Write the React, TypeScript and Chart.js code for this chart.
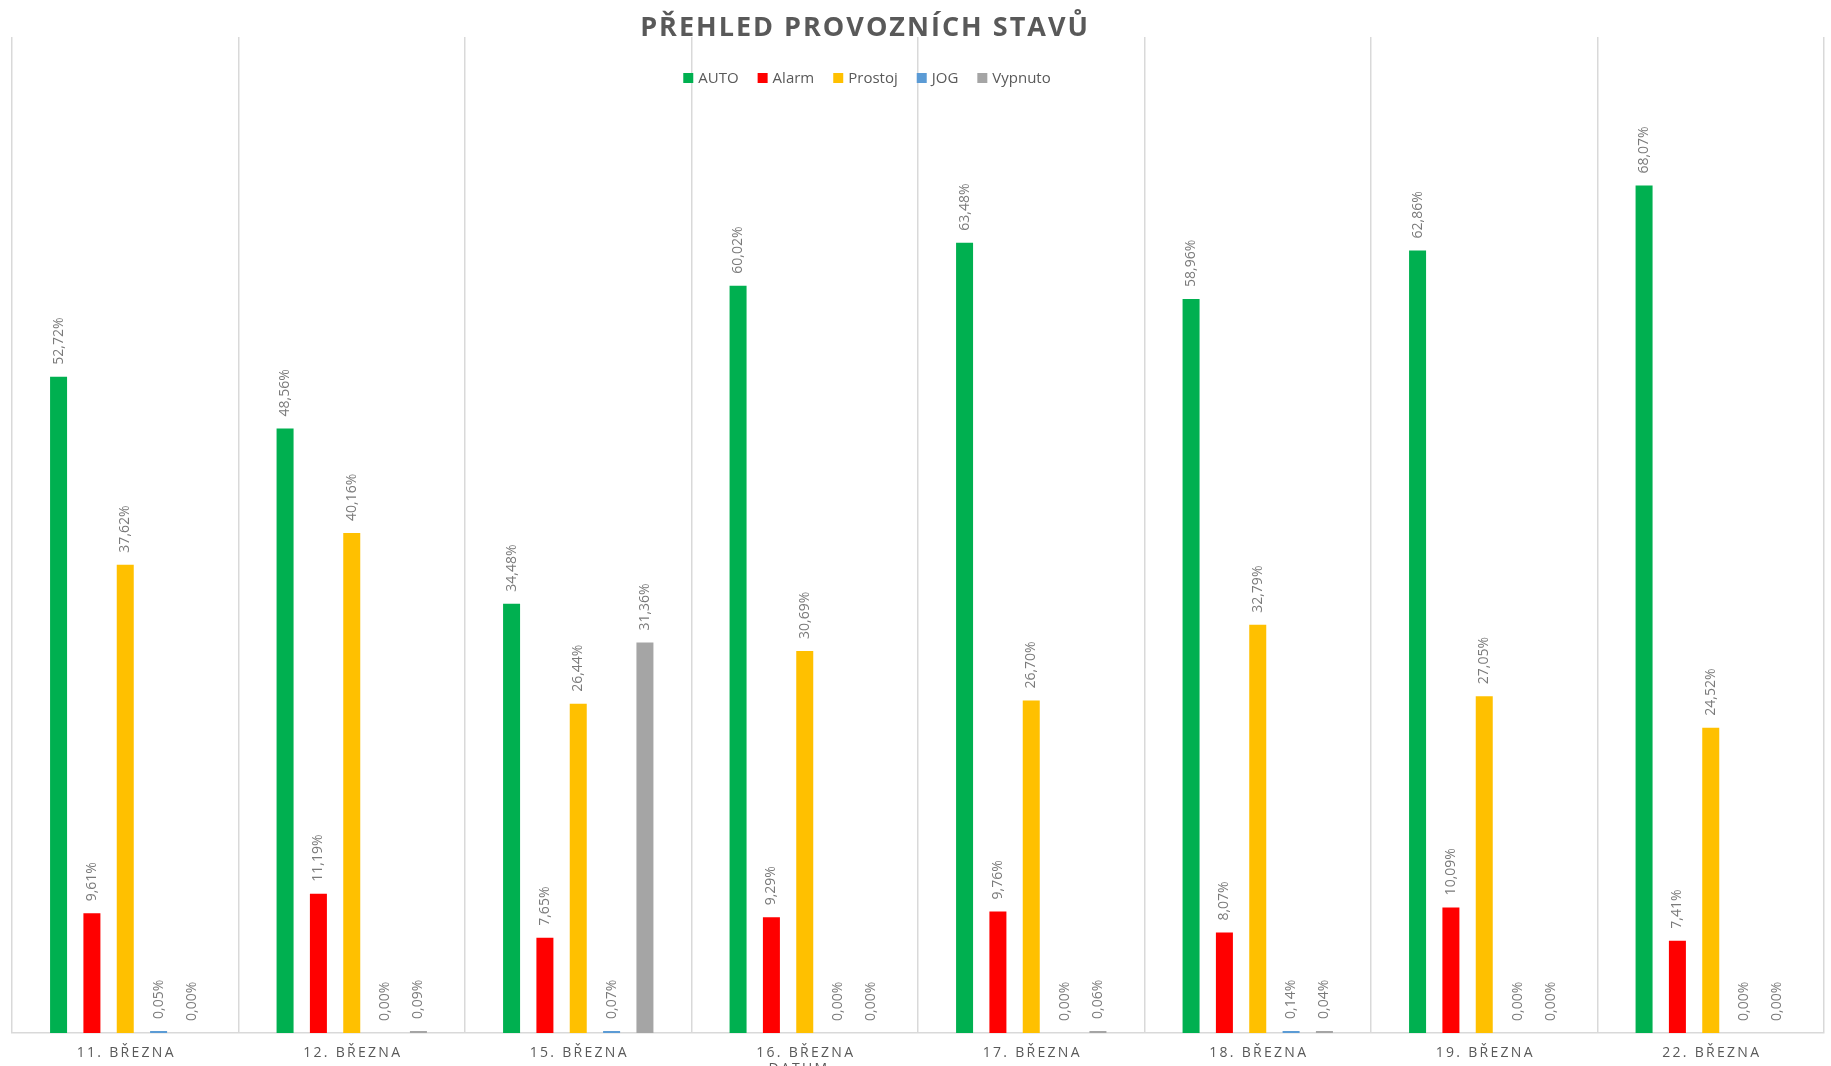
import { useEffect, useRef } from 'react';
import { Chart, registerables } from 'chart.js';

Chart.register(...registerables);

const WIDTH = 1831;
const HEIGHT = 1066;

const title = 'PŘEHLED PROVOZNÍCH STAVŮ';
const axisTitle = 'DATUM';

const categories = [
  '11. BŘEZNA',
  '12. BŘEZNA',
  '15. BŘEZNA',
  '16. BŘEZNA',
  '17. BŘEZNA',
  '18. BŘEZNA',
  '19. BŘEZNA',
  '22. BŘEZNA',
];

const autoValues = [52.72, 48.56, 34.48, 60.02, 63.48, 58.96, 62.86, 68.07];
const alarmValues = [9.61, 11.19, 7.65, 9.29, 9.76, 8.07, 10.09, 7.41];
const prostojValues = [37.62, 40.16, 26.44, 30.69, 26.7, 32.79, 27.05, 24.52];
const jogValues = [0.05, 0.0, 0.07, 0.0, 0.0, 0.14, 0.0, 0.0];
const vypnutoValues = [0.0, 0.09, 31.36, 0.0, 0.06, 0.04, 0.0, 0.0];

const seriesNames = ['AUTO', 'Alarm', 'Prostoj', 'JOG', 'Vypnuto'];
const seriesColors = ['#00B050', '#FF0000', '#FFC000', '#5B9BD5', '#A5A5A5'];
const seriesValues = [autoValues, alarmValues, prostojValues, jogValues, vypnutoValues];

const yMax = 80;

const TEXT_GRAY = '#595959';
const LABEL_GRAY = '#7A7A7A';
const GRID_GRAY = '#D9D9D9';

const formatPct = (v: number) => v.toFixed(2).replace('.', ',') + '%';

// Title, legend, category labels and value labels drawn on the canvas
const annotations = {
  id: 'annotations',
  afterDraw(chart: any) {
    const ctx: CanvasRenderingContext2D = chart.ctx;
    const xScale = chart.scales.x;
    const yScale = chart.scales.y;
    const area = chart.chartArea;
    const headerCenter = 865;

    ctx.save();

    // chart title
    ctx.fillStyle = TEXT_GRAY;
    (ctx as any).letterSpacing = '2px';
    ctx.font = 'bold 27px "Open Sans"';
    ctx.textAlign = 'center';
    ctx.textBaseline = 'middle';
    ctx.fillText(title, headerCenter, 28);

    // legend
    (ctx as any).letterSpacing = '0px';
    ctx.font = '15px "Open Sans"';
    ctx.textAlign = 'left';
    const boxSize = 10;
    const boxGap = 5;
    const itemGap = 19;
    const widths = seriesNames.map((n) => boxSize + boxGap + ctx.measureText(n).width);
    const total = widths.reduce((a, b) => a + b, 0) + itemGap * (widths.length - 1);
    let lx = headerCenter + 2 - total / 2;
    const ly = 78;
    seriesNames.forEach((name, i) => {
      ctx.fillStyle = seriesColors[i];
      ctx.fillRect(lx, ly - boxSize / 2, boxSize, boxSize);
      ctx.fillStyle = TEXT_GRAY;
      ctx.fillText(name, lx + boxSize + boxGap, ly + 1);
      lx += widths[i] + itemGap;
    });

    // category labels
    (ctx as any).letterSpacing = '2.3px';
    ctx.font = '14px "Open Sans"';
    ctx.textAlign = 'center';
    ctx.textBaseline = 'middle';
    ctx.fillStyle = TEXT_GRAY;
    categories.forEach((c, i) => {
      ctx.fillText(c, xScale.getPixelForValue(i) + 1, area.bottom + 20);
    });

    // axis title (partly below the canvas edge)
    ctx.textBaseline = 'top';
    ctx.fillText(axisTitle, 799, area.bottom + 29);

    // value labels, rotated
    (ctx as any).letterSpacing = '0px';
    ctx.font = '14px "Open Sans"';
    ctx.fillStyle = LABEL_GRAY;
    ctx.textAlign = 'left';
    ctx.textBaseline = 'middle';
    seriesValues.forEach((values, di) => {
      const meta = chart.getDatasetMeta(di);
      values.forEach((v, i) => {
        const el = meta.data[i];
        const x = el.x;
        let top = yScale.getPixelForValue(v);
        if (el && Number.isFinite(el.y)) top = Math.min(top, el.y);
        ctx.save();
        ctx.translate(x, top - 12);
        ctx.rotate(-Math.PI / 2);
        ctx.fillText(formatPct(v), 0, 0);
        ctx.restore();
      });
    });

    ctx.restore();
  },
};

export default function App() {
  const canvasRef = useRef<HTMLCanvasElement | null>(null);

  useEffect(() => {
    const canvas = canvasRef.current;
    if (!canvas) return;

    const datasets = seriesNames.map((name, i) => ({
      label: name,
      data: seriesValues[i].map((v) => (v === 0 ? null : v)),
      backgroundColor: seriesColors[i],
      borderWidth: 0,
      minBarLength: i >= 3 ? 2 : 0,
      categoryPercentage: 0.736,
      barPercentage: 0.51,
    }));

    const chart = new Chart(canvas, {
      type: 'bar',
      data: { labels: categories, datasets },
      options: {
        animation: false,
        responsive: false,
        maintainAspectRatio: false,
        layout: { padding: { left: 12, right: 7, top: 37, bottom: 33 } },
        plugins: {
          legend: { display: false },
          title: { display: false },
          tooltip: { enabled: false },
        },
        scales: {
          x: {
            grid: {
              offset: true,
              color: GRID_GRAY,
              lineWidth: 1.5,
              drawTicks: false,
            },
            border: { color: GRID_GRAY, width: 1.5 },
            ticks: { display: false },
          },
          y: {
            display: false,
            min: 0,
            max: yMax,
          },
        },
      },
      plugins: [annotations],
    });

    return () => chart.destroy();
  }, []);

  return (
    <div
      style={{
        position: 'fixed',
        left: 0,
        top: 0,
        width: WIDTH,
        height: HEIGHT,
        background: '#ffffff',
      }}
    >
      <canvas ref={canvasRef} width={WIDTH} height={HEIGHT} style={{ display: 'block' }} />
    </div>
  );
}
